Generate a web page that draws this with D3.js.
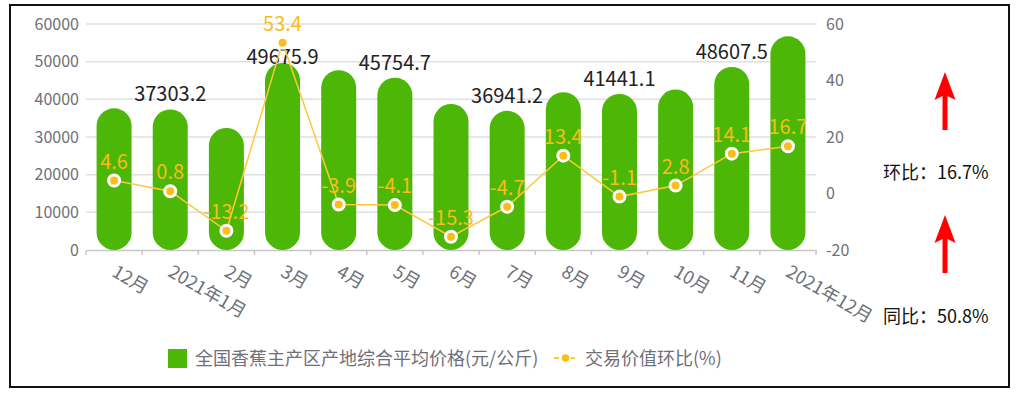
<!DOCTYPE html>
<html>
<head>
<meta charset="utf-8">
<script src="https://cdn.jsdelivr.net/npm/d3@7/dist/d3.min.js"></script>
<style>
  body { margin: 0; background: #fff; }
  svg text { font-family: "Noto Sans CJK SC", "Noto Sans", sans-serif; }
</style>
</head>
<body>
<svg id="chart" width="1017" height="397"></svg>
<script>
/*
Data
*/
var months = ["12月", "2021年1月", "2月", "3月", "4月", "5月", "6月", "7月", "8月", "9月", "10月", "11月", "2021年12月"];
var prices = [37620, 37303.2, 32380, 49675.9, 47740, 45754.7, 38750, 36941.2, 41890, 41441.1, 42600, 48607.5, 56725];
var momRate = [4.6, 0.8, -13.2, 53.4, -3.9, -4.1, -15.3, -4.7, 13.4, -1.1, 2.8, 14.1, 16.7];
var leftTicks = [0, 10000, 20000, 30000, 40000, 50000, 60000];
var rightTicks = [-20, 0, 20, 40, 60];
var seriesNames = ["全国香蕉主产区产地综合平均价格(元/公斤)", "交易价值环比(%)"];
var sideNotes = ["环比：16.7%", "同比：50.8%"];

var green = "#4cb706";
var orange = "#fbbd18";
var gray = "#6e7079";

/*
Scales
*/
var svg = d3.select("#chart");
var plotLeft = 86, plotRight = 816, plotTop = 24, plotBottom = 250;
var barW = 35;

var x = d3.scaleBand().domain(months).range([plotLeft, plotRight]);
var yL = d3.scaleLinear().domain([0, 60000]).range([plotBottom, plotTop]);
var yR = d3.scaleLinear().domain([-20, 60]).range([plotBottom, plotTop]);
function cx(d){ return x(d) + x.bandwidth()/2; }

// frame
svg.append("rect")
   .attr("x", 10).attr("y", 5)
   .attr("width", 999).attr("height", 382)
   .attr("fill", "none")
   .attr("stroke", "#111")
   .attr("stroke-width", 2);

// grid lines
svg.append("g").selectAll("line")
   .data(leftTicks.slice(1))
   .enter().append("line")
   .attr("x1", plotLeft).attr("x2", plotRight)
   .attr("y1", function(d){ return yL(d); })
   .attr("y2", function(d){ return yL(d); })
   .attr("stroke", "#e0e0e0")
   .attr("stroke-width", 1.5);

// left axis labels
svg.append("g").selectAll("text")
   .data(leftTicks)
   .enter().append("text")
   .attr("x", 79)
   .attr("y", function(d){ return yL(d); })
   .attr("dy", "0.36em")
   .attr("text-anchor", "end")
   .attr("font-size", 16)
   .attr("fill", gray)
   .text(function(d){ return d; });

// right axis labels
svg.append("g").selectAll("text")
   .data(rightTicks)
   .enter().append("text")
   .attr("x", 826)
   .attr("y", function(d){ return yR(d); })
   .attr("dy", "0.36em")
   .attr("font-size", 16)
   .attr("fill", gray)
   .text(function(d){ return d; });

// x axis
var xAxis = d3.axisBottom(x).tickSize(0).tickFormat("");
var gx = svg.append("g").attr("transform", "translate(0," + plotBottom + ")").call(xAxis);
gx.select(".domain").attr("stroke", "#c8c8c8").attr("stroke-width", 1.5);
svg.append("g").selectAll("line")
   .data(d3.range(months.length + 1))
   .enter().append("line")
   .attr("x1", function(i){ return plotLeft + i*x.step(); })
   .attr("x2", function(i){ return plotLeft + i*x.step(); })
   .attr("y1", plotBottom).attr("y2", plotBottom + 5)
   .attr("stroke", "#c8c8c8")
   .attr("stroke-width", 1.5);

svg.append("g").selectAll("text")
   .data(months)
   .enter().append("text")
   .attr("transform", function(d){ return "translate(" + cx(d) + "," + 270 + ") rotate(30)"; })
   .attr("dy", "0.35em")
   .attr("font-size", 18)
   .attr("fill", gray)
   .text(function(d){ return d; });

// bars
svg.append("g").selectAll("rect")
   .data(prices)
   .enter().append("rect")
   .attr("x", function(d,i){ return cx(months[i]) - barW/2; })
   .attr("y", function(d){ return yL(d); })
   .attr("width", barW)
   .attr("height", function(d){ return yL(0) - yL(d); })
   .attr("rx", barW/2)
   .attr("fill", green);

// bar labels (every other one, pushed below the point when they collide)
var labelled = d3.range(1, prices.length, 2);
svg.append("g").selectAll("text")
   .data(labelled)
   .enter().append("text")
   .attr("x", function(i){ return cx(months[i]); })
   .attr("y", function(i){
     var ly = yL(prices[i]) - 8;
     var py = yR(momRate[i]);
     if (py > ly - 20 && py < ly + 8){
       ly = py + 21;
     }
     return ly;
   })
   .attr("text-anchor", "middle")
   .attr("font-size", 20)
   .attr("fill", "#222")
   .text(function(i){ return d3.format(".1f")(prices[i]); });

// line
var line = d3.line()
  .x(function(d,i){ return cx(months[i]); })
  .y(function(d){ return yR(d); });

svg.append("path")
   .datum(momRate)
   .attr("d", line)
   .attr("fill", "none")
   .attr("stroke", "#fbc93c")
   .attr("stroke-width", 1.5);

svg.append("g").selectAll("circle")
   .data(momRate)
   .enter().append("circle")
   .attr("cx", function(d,i){ return cx(months[i]); })
   .attr("cy", function(d){ return yR(d); })
   .attr("r", 5.5)
   .attr("fill", orange)
   .attr("stroke", "#fff")
   .attr("stroke-width", 3);

svg.append("g").selectAll("text")
   .data(momRate)
   .enter().append("text")
   .attr("x", function(d,i){ return cx(months[i]); })
   .attr("y", function(d){ return yR(d) - 12; })
   .attr("text-anchor", "middle")
   .attr("font-size", 20)
   .attr("fill", "#f7bd1a")
   .text(function(d){ return d; });

/*
Legend
*/
var legend = svg.append("g");
legend.append("rect")
      .attr("x", 168).attr("y", 349)
      .attr("width", 19).attr("height", 19)
      .attr("fill", green);
legend.append("text")
      .attr("x", 195).attr("y", 358.5)
      .attr("dy", "0.35em")
      .attr("font-size", 18)
      .attr("fill", gray)
      .text(seriesNames[0]);
legend.append("line")
      .attr("x1", 554).attr("x2", 577)
      .attr("y1", 358).attr("y2", 358)
      .attr("stroke", "#fbc93c")
      .attr("stroke-width", 2)
      .attr("stroke-dasharray", "5,3");
legend.append("circle")
      .attr("cx", 565.5).attr("cy", 358)
      .attr("r", 4.5)
      .attr("fill", orange)
      .attr("stroke", "#fff")
      .attr("stroke-width", 1.5);
legend.append("text")
      .attr("x", 585).attr("y", 358.5)
      .attr("dy", "0.35em")
      .attr("font-size", 18)
      .attr("fill", gray)
      .text(seriesNames[1]);

/*
Side notes with red arrows
*/
function drawArrow(yTip){
  var p = d3.path();
  p.moveTo(945, yTip);
  p.lineTo(955.5, yTip + 28);
  p.lineTo(947.5, yTip + 24);
  p.lineTo(947.5, yTip + 58);
  p.lineTo(942.5, yTip + 58);
  p.lineTo(942.5, yTip + 24);
  p.lineTo(934.5, yTip + 28);
  p.closePath();
  svg.append("path").attr("d", p.toString()).attr("fill", "#ff0000");
}
drawArrow(72);
drawArrow(215);

svg.append("g").selectAll("text")
   .data(sideNotes)
   .enter().append("text")
   .attr("x", 883)
   .attr("y", function(d,i){ return i == 0 ? 179 : 323; })
   .attr("font-size", 18)
   .attr("fill", "#111")
   .text(function(d){ return d; });
</script>
</body>
</html>
